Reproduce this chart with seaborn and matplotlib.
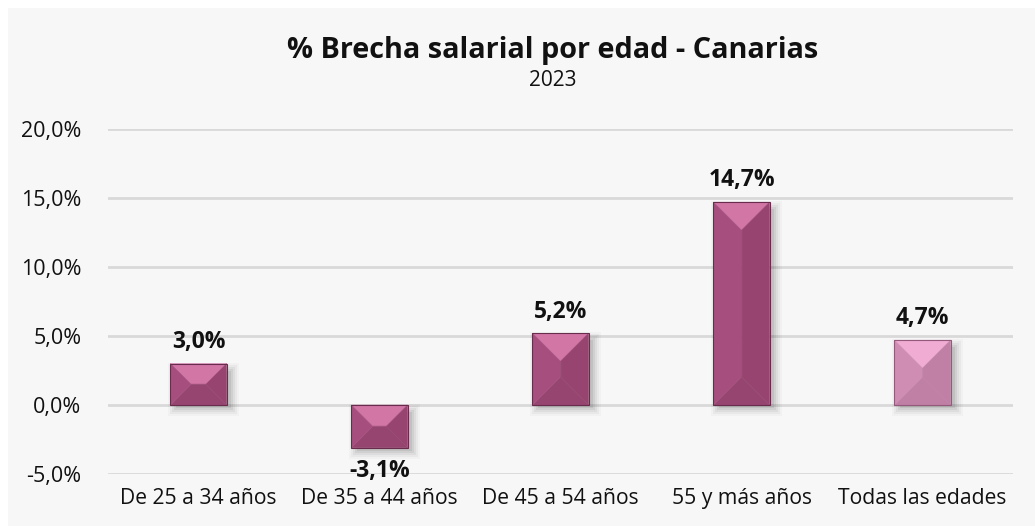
import matplotlib
matplotlib.use("Agg")
import matplotlib.pyplot as plt
from matplotlib.patches import Polygon, Rectangle
import seaborn as sns
import pandas as pd

# Salary gap by age group, Canary Islands 2023
categories = ["De 25 a 34 años", "De 35 a 44 años", "De 45 a 54 años",
              "55 y más años", "Todas las edades"]
gap_pct = [3.0, -3.1, 5.2, 14.7, 4.7]
yticks = [-5, 0, 5, 10, 15, 20]

title = "% Brecha salarial por edad - Canarias"
subtitle = "2023"

sns.set_theme(style="white")
plt.rcParams["font.family"] = ["Open Sans", "DejaVu Sans"]

W, H = 1035, 526
fig = plt.figure(figsize=(W / 100, H / 100), dpi=100)
fig.patch.set_facecolor("white")
# light grey panel behind the chart
fig.add_artist(Rectangle((8 / W, 0), 1, 1 - 8 / H, transform=fig.transFigure,
                         facecolor="#f7f7f7", edgecolor="none", zorder=0))

ax = fig.add_axes([108 / W, 1 - 474 / H, 905 / W, 345 / H])
ax.set_facecolor("none")

df = pd.DataFrame({"grupo": categories, "brecha": gap_pct})
sns.barplot(data=df, x="grupo", y="brecha", ax=ax, width=0.31,
            color="#a3517c", saturation=1, zorder=3)

ax.set_ylim(-5, 20)
ax.set_xlim(-0.5, len(categories) - 0.5)
ax.set_yticks(yticks)
ax.set_yticklabels([f"{v:.1f}%".replace(".", ",") for v in yticks],
                   fontsize=15.5, color="#111111")
ax.tick_params(axis="y", length=0, pad=19)
ax.tick_params(axis="x", length=0, pad=10, labelsize=15.2, labelcolor="#111111")
ax.set_xlabel("")
ax.set_ylabel("")
for s in ax.spines.values():
    s.set_visible(False)
ax.yaxis.grid(True, color="#d9d9d9", linewidth=2, zorder=0)
ax.set_axisbelow(True)

fig.canvas.draw()
to_disp = ax.transData
to_data = ax.transData.inverted()

palettes = {
    "dark": dict(top="#d276a6", left="#a64e7e", right="#974570",
                 bottom="#964570", face="#a5507f", edge="#6a2c4c"),
    "light": dict(top="#f0acd2", left="#cf8db3", right="#c080a6",
                  bottom="#c080a5", face="#cd8cb2", edge="#94597b"),
}

bars = list(ax.patches)
for i, (bar, val) in enumerate(zip(bars, gap_pct)):
    pal = palettes["light"] if i == len(bars) - 1 else palettes["dark"]
    bar.set_visible(False)
    x0, y0 = bar.get_x(), min(bar.get_y(), bar.get_y() + bar.get_height())
    x1, y1 = x0 + bar.get_width(), max(bar.get_y(), bar.get_y() + bar.get_height())
    (px0, py0), (px1, py1) = to_disp.transform([(x0, y0), (x1, y1)])
    wpx, hpx = px1 - px0, py1 - py0
    d = min(wpx / 2, hpx / 2)

    # soft drop shadow, offset to the lower right
    for g, a in [(7, 0.025), (5, 0.035), (3, 0.045), (1, 0.06), (-1, 0.07)]:
        sh = [(px0 + 5 - g, py0 - 4 - g), (px1 + 5 + g, py1 - 6 + g)]
        (sx0, sy0), (sx1, sy1) = to_data.transform(sh)
        ax.add_patch(Rectangle((sx0, sy0), sx1 - sx0, sy1 - sy0,
                               facecolor="#000000", alpha=a, edgecolor="none",
                               zorder=2))

    ix0, ix1 = px0 + d, px1 - d
    iy0, iy1 = py0 + d, py1 - d
    facets = {
        "top": [(px0, py1), (px1, py1), (ix1, iy1), (ix0, iy1)],
        "bottom": [(px0, py0), (px1, py0), (ix1, iy0), (ix0, iy0)],
        "left": [(px0, py0), (px0, py1), (ix0, iy1), (ix0, iy0)],
        "right": [(px1, py0), (px1, py1), (ix1, iy1), (ix1, iy0)],
        "face": [(ix0, iy0), (ix1, iy0), (ix1, iy1), (ix0, iy1)],
    }
    for name, pts in facets.items():
        ax.add_patch(Polygon(to_data.transform(pts), closed=True,
                             facecolor=pal[name], edgecolor=pal[name],
                             linewidth=0.3, zorder=4))
    ax.add_patch(Rectangle((x0, y0), x1 - x0, y1 - y0, facecolor="none",
                           edgecolor=pal["edge"], linewidth=0.8, zorder=5))

    label = f"{val:.1f}%".replace(".", ",")
    cx = x0 + (x1 - x0) / 2
    if val >= 0:
        ax.annotate(label, (cx, val), xytext=(0, 7), textcoords="offset points",
                    ha="center", va="bottom", fontsize=16.5, fontweight="bold",
                    color="#111111", zorder=6)
    else:
        ax.annotate(label, (cx, val), xytext=(0, -8), textcoords="offset points",
                    ha="center", va="top", fontsize=16.5, fontweight="bold",
                    color="#111111", zorder=6)

fig.text(553 / W, 1 - 58 / H, title, ha="center", va="baseline",
         fontsize=20.8, fontweight="bold", color="#111111")
fig.text(553 / W, 1 - 86 / H, subtitle, ha="center", va="baseline",
         fontsize=15, color="#111111")

fig.savefig("out.png", dpi=100)
